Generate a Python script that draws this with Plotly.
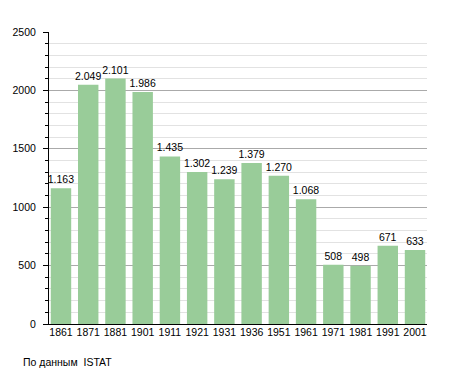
import plotly.graph_objects as go

years = ["1861", "1871", "1881", "1901", "1911", "1921", "1931", "1936", "1951", "1961", "1971", "1981", "1991", "2001"]
population = [1163, 2049, 2101, 1986, 1435, 1302, 1239, 1379, 1270, 1068, 508, 498, 671, 633]
labels = [f"{v:,}".replace(",", ".") for v in population]

# page body has an 8px margin, so figure is sized/offset to compensate
W, H = 447, 365
L, R, T, B = 41, 28, 24, 49
plot_w = W - L - R
plot_h = H - T - B
FONT = "Liberation Sans, Arial, Helvetica, sans-serif"

fig = go.Figure(go.Bar(
    x=list(range(len(years))), y=population, text=labels, textposition="outside",
    textfont=dict(size=10.5, color="#000000", family=FONT),
    marker=dict(color="#99cc99", line=dict(width=0)),
    cliponaxis=False,
))

fig.update_layout(
    width=W, height=H,
    margin=dict(l=L, r=R, t=T, b=B, autoexpand=False),
    paper_bgcolor="white", plot_bgcolor="white",
    bargap=0.25,
    showlegend=False,
    uniformtext=dict(minsize=10, mode="show"),
    font=dict(family=FONT, size=10.5, color="#000000"),
    xaxis=dict(range=[-0.44, len(years) - 1 + 0.44],
               tickvals=list(range(len(years))), ticktext=years,
               showline=True, linecolor="#000000", linewidth=1, ticks="", showgrid=False,
               zeroline=False, automargin=False, ticklabelstandoff=-2,
               tickfont=dict(size=10.5)),
    yaxis=dict(range=[0, 2500], tickvals=[0, 500, 1000, 1500, 2000, 2500],
               showline=True, linecolor="#000000", linewidth=1,
               ticks="outside", ticklen=5, tickcolor="#000000",
               gridcolor="#aaaaaa", gridwidth=1, zeroline=False, automargin=False,
               ticklabelstandoff=5,
               minor=dict(dtick=100, ticks="outside", ticklen=3, tickcolor="#000000",
                          showgrid=True, gridcolor="#e2e2e2", gridwidth=1),
               tickfont=dict(size=10.5)),
    annotations=[dict(text="По данным  ISTAT", xref="paper", yref="paper",
                      x=(13 - L) / plot_w, y=(H - B - 354) / plot_h,
                      xanchor="left", yanchor="middle",
                      showarrow=False, font=dict(size=10.5))],
)

fig.write_html("out.html")
